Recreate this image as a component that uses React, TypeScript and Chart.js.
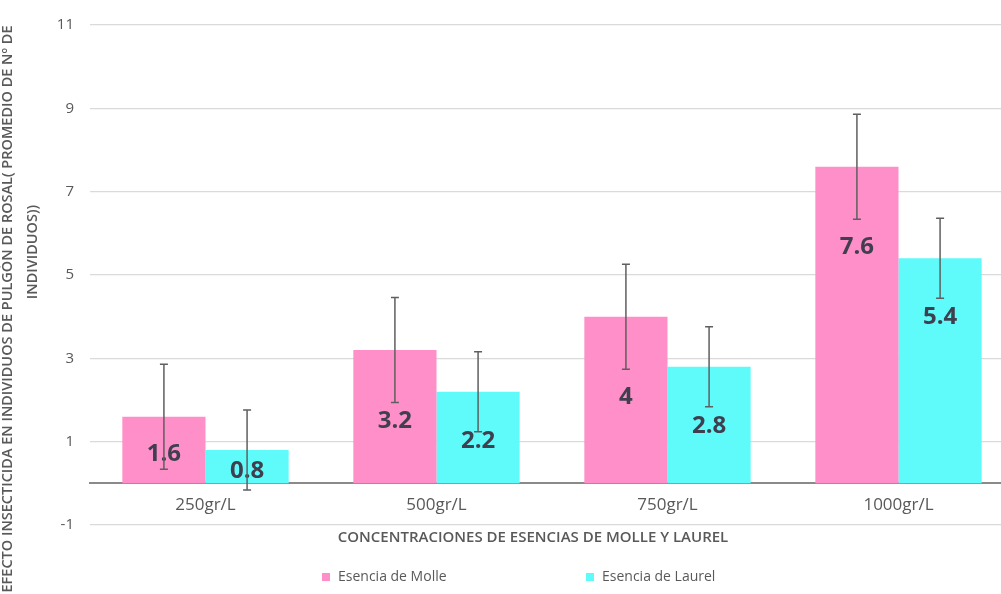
import React, { useEffect, useRef } from "react";
import { Chart, registerables } from "chart.js";

Chart.register(...registerables);

const categories = ["250gr/L", "500gr/L", "750gr/L", "1000gr/L"];
const seriesNames = ["Esencia de Molle", "Esencia de Laurel"];
const molleValues = [1.6, 3.2, 4, 7.6];
const laurelValues = [0.8, 2.2, 2.8, 5.4];
const molleErrors = [1.26, 1.26, 1.26, 1.26];
const laurelErrors = [0.96, 0.96, 0.96, 0.96];
const yTicksMin = -1;
const yTicksMax = 11;
const yTicksStep = 2;
const yTitleLines = [
  "EFECTO INSECTICIDA EN INDIVIDUOS DE PULGÓN DE ROSAL( PROMEDIO DE Nº DE",
  "INDIVIDUOS))",
];
const xTitle = "CONCENTRACIONES DE ESENCIAS DE MOLLE Y LAUREL";

const PINK = "#FF8FC9";
const CYAN = "#5FFAFA";
const TEXT = "#595959";
const FONT = "'Open Sans', 'DejaVu Sans', sans-serif";

const errorBarPlugin = {
  id: "errorBars",
  afterDatasetsDraw(chart: any) {
    const ctx = chart.ctx;
    const yScale = chart.scales.y;
    chart.data.datasets.forEach((ds: any, d: number) => {
      const meta = chart.getDatasetMeta(d);
      const errs: number[] = ds.errorValues || [];
      meta.data.forEach((el: any, i: number) => {
        const v = ds.data[i];
        const e = errs[i];
        if (e == null) return;
        const x = el.x;
        const yt = yScale.getPixelForValue(v + e);
        const yb = yScale.getPixelForValue(v - e);
        ctx.save();
        ctx.strokeStyle = "#5f5f5f";
        ctx.lineWidth = 1.5;
        ctx.beginPath();
        ctx.moveTo(x, yt);
        ctx.lineTo(x, yb);
        ctx.moveTo(x - 4, yt);
        ctx.lineTo(x + 4, yt);
        ctx.moveTo(x - 4, yb);
        ctx.lineTo(x + 4, yb);
        ctx.stroke();
        ctx.restore();
      });
    });
  },
};

const dataLabelPlugin = {
  id: "valueLabels",
  afterDatasetsDraw(chart: any) {
    const ctx = chart.ctx;
    chart.data.datasets.forEach((ds: any, d: number) => {
      const meta = chart.getDatasetMeta(d);
      const off = ds.labelOffset || 60;
      meta.data.forEach((el: any, i: number) => {
        const y = Math.min(el.y + off, (el.y + el.base) / 2 + 4);
        ctx.save();
        ctx.font = `bold 24px ${FONT}`;
        ctx.fillStyle = "#3f3f4f";
        ctx.textAlign = "center";
        ctx.textBaseline = "middle";
        ctx.fillText(String(ds.data[i]), el.x, y);
        ctx.restore();
      });
    });
  },
};

const yTitlePlugin = {
  id: "yTitle",
  afterDraw(chart: any) {
    const ctx = chart.ctx;
    const spots = [
      { x: 8, y: 309 },
      { x: 33, y: 252 },
    ];
    yTitleLines.forEach((line, i) => {
      ctx.save();
      ctx.translate(spots[i].x, spots[i].y);
      ctx.rotate(-Math.PI / 2);
      ctx.font = `600 14.5px ${FONT}`;
      ctx.fillStyle = TEXT;
      ctx.textAlign = "center";
      ctx.textBaseline = "middle";
      ctx.fillText(line, 0, 0);
      ctx.restore();
    });
  },
};

const legendPlugin = {
  id: "customLegend",
  afterDraw(chart: any) {
    const ctx = chart.ctx;
    const starts = [322, 586];
    const y = 577;
    chart.data.datasets.forEach((ds: any, d: number) => {
      const x = starts[d];
      ctx.save();
      ctx.fillStyle = ds.backgroundColor;
      ctx.fillRect(x, y - 4, 8, 8);
      ctx.font = `14px ${FONT}`;
      ctx.fillStyle = TEXT;
      ctx.textAlign = "left";
      ctx.textBaseline = "middle";
      ctx.fillText(ds.label, x + 16, y);
      ctx.restore();
    });
  },
};

export default function App() {
  const canvasRef = useRef<HTMLCanvasElement | null>(null);

  useEffect(() => {
    if (!canvasRef.current) return;
    const chart = new Chart(canvasRef.current, {
      type: "bar",
      data: {
        labels: categories,
        datasets: [
          {
            label: seriesNames[0],
            data: molleValues,
            backgroundColor: PINK,
            borderWidth: 0,
            categoryPercentage: 0.72,
            barPercentage: 1,
            errorValues: molleErrors,
            labelOffset: 80,
          } as any,
          {
            label: seriesNames[1],
            data: laurelValues,
            backgroundColor: CYAN,
            borderWidth: 0,
            categoryPercentage: 0.72,
            barPercentage: 1,
            errorValues: laurelErrors,
            labelOffset: 59,
          } as any,
        ],
      },
      options: {
        responsive: false,
        animation: false,
        layout: { padding: { left: 52, right: 0, top: 21, bottom: 47.5 } },
        plugins: {
          legend: { display: false },
          tooltip: { enabled: false },
          title: {
            display: true,
            text: xTitle,
            position: "bottom",
            fullSize: true,
            color: TEXT,
            font: { family: FONT, size: 15, weight: "600" as any, lineHeight: 1.2 },
            padding: { top: 3.5, bottom: 0 },
          },
        },
        scales: {
          x: {
            position: { y: 0 } as any,
            offset: true,
            grid: { display: true, color: "rgba(0,0,0,0)", drawTicks: false },
            border: { display: true, color: "#8a8a8a", width: 2 },
            ticks: {
              padding: 12,
              maxRotation: 0,
              color: TEXT,
              font: { family: FONT, size: 17 },
            },
          },
          y: {
            min: yTicksMin,
            max: yTicksMax,
            ticks: {
              stepSize: yTicksStep,
              padding: 16,
              color: TEXT,
              font: { family: FONT, size: 15 },
            },
            grid: { color: "#dadada", lineWidth: 1.2, drawTicks: false },
            border: { display: false },
            afterFit: (s: any) => {
              s.width = 38;
            },
          },
        },
      },
      plugins: [dataLabelPlugin, errorBarPlugin, yTitlePlugin, legendPlugin],
    });
    return () => chart.destroy();
  }, []);

  return (
    <div
      style={{
        position: "fixed",
        left: 0,
        top: 0,
        width: 1001,
        height: 594,
        overflow: "hidden",
        background: "#ffffff",
      }}
    >
      <canvas ref={canvasRef} width={1014} height={594} style={{ display: "block" }} />
    </div>
  );
}
